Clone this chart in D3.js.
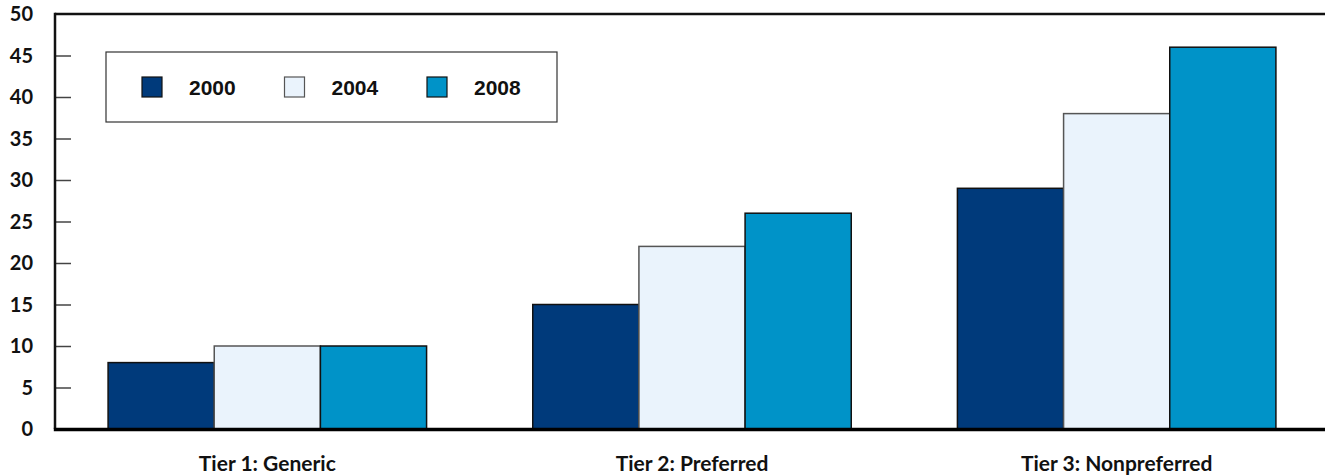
<!DOCTYPE html>
<html>
<head>
<meta charset="utf-8">
<script src="https://cdn.jsdelivr.net/npm/d3@7"></script>
<style>
  html, body { margin: 0; padding: 0; background: #fff; }
  svg { display: block; }
</style>
</head>
<body>
<svg id="chart" width="1325" height="476"></svg>
<script>
// Copay tiers and the average copay per year
const categories = ["Tier 1: Generic", "Tier 2: Preferred", "Tier 3: Nonpreferred"];
const years = ["2000", "2004", "2008"];
const values2000 = [8, 15, 29];
const values2004 = [10, 22, 38];
const values2008 = [10, 26, 46];
const yTicks = [0, 5, 10, 15, 20, 25, 30, 35, 40, 45, 50];

const seriesValues = [values2000, values2004, values2008];
const fills = ["#003a7b", "#eaf3fc", "#0093c8"];
const strokes = ["#111", "#555", "#111"];

const svg = d3.select("#chart");
const plotLeft = 55, plotTop = 14, plotBottom = 429, plotRight = 1329;

const x = d3.scaleBand().domain(categories).range([plotLeft, plotRight])
  .paddingInner(0.25).paddingOuter(0.125);
const xSub = d3.scaleBand().domain(years).range([0, x.bandwidth()]);
const y = d3.scaleLinear().domain([0, 50]).range([plotBottom, plotTop]);

const rows = categories.map((c, i) => ({
  category: c,
  bars: years.map((yr, j) => ({ year: yr, value: seriesValues[j][i], idx: j }))
}));

// bars
const groups = svg.append("g").selectAll("g").data(rows).join("g")
  .attr("transform", d => `translate(${x(d.category)},0)`);
groups.selectAll("rect").data(d => d.bars).join("rect")
  .attr("x", d => xSub(d.year))
  .attr("y", d => y(d.value))
  .attr("width", xSub.bandwidth())
  .attr("height", d => y(0) - y(d.value))
  .attr("fill", d => fills[d.idx])
  .attr("stroke", d => strokes[d.idx])
  .attr("stroke-width", 1.5);

// y axis: ticks point inward
const yAxis = d3.axisRight(y).tickValues(yTicks.filter(t => t > 0 && t < 50)).tickSize(16).tickFormat("");
const ya = svg.append("g").attr("transform", `translate(${plotLeft},0)`).call(yAxis);
ya.select(".domain").remove();
ya.selectAll(".tick line").attr("stroke", "#444").attr("stroke-width", 1.5);

svg.append("g").selectAll("text").data(yTicks).join("text")
  .attr("x", 33).attr("y", d => y(d)).attr("dy", "0.36em")
  .attr("text-anchor", "end")
  .style("font-family", "Lato, 'Open Sans', sans-serif")
  .style("font-weight", "bold").style("font-size", "20px").attr("fill", "#111")
  .text(d => d);

// frame lines
svg.append("line").attr("x1", plotLeft).attr("x2", 1325).attr("y1", plotTop).attr("y2", plotTop)
  .attr("stroke", "#111").attr("stroke-width", 2.5);
svg.append("line").attr("x1", plotLeft).attr("x2", plotLeft).attr("y1", plotTop - 1.2).attr("y2", plotBottom)
  .attr("stroke", "#111").attr("stroke-width", 2.5);
svg.append("line").attr("x1", plotLeft - 1.2).attr("x2", 1325).attr("y1", plotBottom + 0.5).attr("y2", plotBottom + 0.5)
  .attr("stroke", "#000").attr("stroke-width", 3.5);

// category labels
svg.append("g").selectAll("text").data(categories).join("text")
  .attr("x", d => x(d) + x.bandwidth() / 2).attr("y", 471)
  .attr("text-anchor", "middle")
  .style("font-family", "Lato, 'Open Sans', sans-serif")
  .style("font-weight", "bold").style("font-size", "21px").attr("fill", "#111")
  .text(d => d);

// legend
const legend = svg.append("g");
legend.append("rect").attr("x", 106).attr("y", 52).attr("width", 451).attr("height", 70)
  .attr("fill", "#fff").attr("stroke", "#333").attr("stroke-width", 1.2);
const legendX = [142, 284.5, 427];
const li = legend.selectAll("g").data(years).join("g")
  .attr("transform", (d, i) => `translate(${legendX[i]},77)`);
li.append("rect").attr("width", 20).attr("height", 20)
  .attr("fill", (d, i) => fills[i]).attr("stroke", (d, i) => strokes[i]).attr("stroke-width", 1.2);
li.append("text").attr("x", 47).attr("y", 18)
  .style("font-family", "'Liberation Sans', Arial, sans-serif")
  .style("font-weight", "bold").style("font-size", "21px").attr("fill", "#111")
  .text(d => d);
</script>
</body>
</html>
